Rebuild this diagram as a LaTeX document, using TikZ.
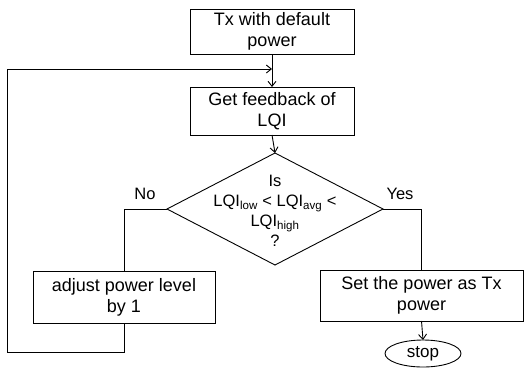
\documentclass[tikz,border=0pt]{standalone}
\usepackage{fontspec}
\setmainfont{Liberation Sans}
\usetikzlibrary{shapes.geometric,arrows.meta}
\begin{document}
\begin{tikzpicture}[x=1pt,y=-1pt,
  line width=0.9pt,
  every node/.style={inner sep=0pt, outer sep=0pt},
  procbox/.style={draw, rectangle, align=center, font=\fontsize{18}{21}\selectfont},
  decbox/.style={draw, diamond, minimum width=216pt, minimum height=112pt},
  dectext/.style={align=center, font=\fontsize{16.5}{20}\selectfont},
  lbl/.style={font=\fontsize{16.5}{20}\selectfont},
  arr/.style={-{Straight Barb[length=5pt,width=8pt]}},
  termbox/.style={draw, ellipse, minimum width=76pt, minimum height=27pt, font=\fontsize{17}{20}\selectfont}
]
\useasboundingbox (0,0) rectangle (529,370);
\node[procbox, minimum width=164pt, minimum height=45pt] (b1) at (272,31.5) {Tx with default\\power};
\node[procbox, minimum width=164pt, minimum height=48pt] (b2) at (272,111) {Get feedback of\\LQI};
\node[decbox] (d) at (275,209) {};
\node[dectext] (dt) at (275,211) {Is\\LQI\textsubscript{low} {<} LQI\textsubscript{avg} {<}\\LQI\textsubscript{high}\\?};
\node[procbox, minimum width=182pt, minimum height=52pt] (b3) at (124,297) {adjust power level\\by 1};
\node[procbox, minimum width=203pt, minimum height=51pt] (b4) at (421.5,295.5) {Set the power as Tx\\power};
\node[termbox] (stop) at (423,353.5) {stop};
\node[lbl] (no) at (145,194) {No};
\node[lbl] (yes) at (400,194) {Yes};
\coordinate (j) at (272,69);
\coordinate (lb) at (7,352);
\draw[arr] (b1.south) -- (b2.north);
\draw[arr] (b2.south) -- (d.north);
\draw (d.west) -| (b3.north);
\draw (d.east) -| (b4.north);
\draw[arr] (b4.south) -- (stop.north);
\draw[arr] (b3.south) |- (lb) |- (j);
\end{tikzpicture}
\end{document}
